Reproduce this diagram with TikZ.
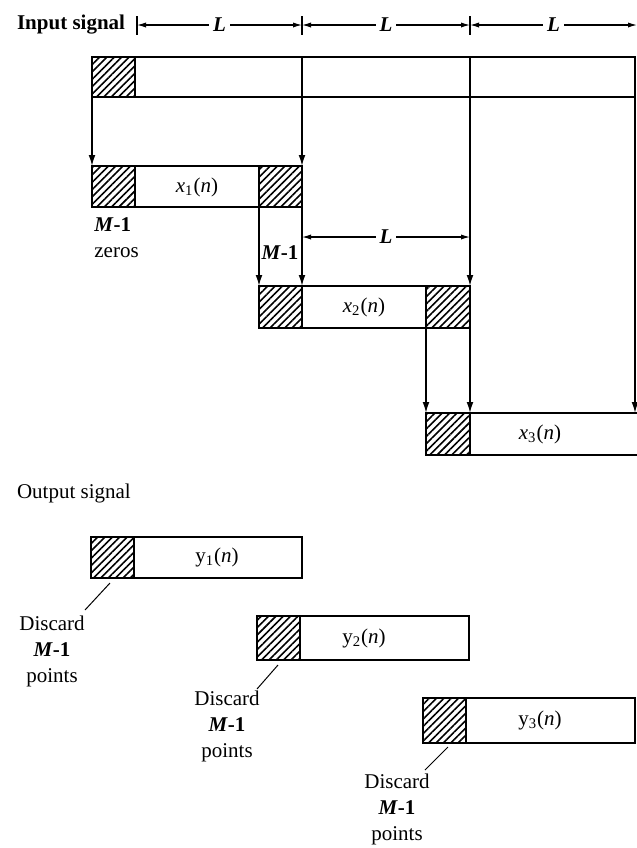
\documentclass[tikz,border=0pt]{standalone}
\usepackage{fontspec}
\setmainfont{Liberation Serif}
\usetikzlibrary{arrows.meta,patterns.meta}

\tikzset{
  blk/.style={line width=0.9pt},
  hatch/.style={blk,pattern={Lines[angle=45,distance=2.6pt,line width=0.8pt]}},
  feed/.style={line width=0.7pt,-{Latex[length=5.5pt,width=3.4pt]}},
  dim/.style={line width=0.6pt,{Latex[length=4.5pt,width=2.6pt]}-{Latex[length=4.5pt,width=2.6pt]}},
  tick/.style={line width=0.6pt},
  lead/.style={line width=0.5pt}
}
\newcommand{\Mone}{\textbf{\textit{M}-1}}
\newcommand{\Lsym}{\textit{\textbf{L}}}
\newcommand{\sig}[2]{#1\textsubscript{#2}(\textit{n})}

\begin{document}
\begin{tikzpicture}[x=0.5pt,y=-0.5pt,font=\fontsize{10.5pt}{13pt}\selectfont]
  \useasboundingbox (0,0) rectangle (637,848);

  % input signal, blocks of length L
  \node[anchor=west,font=\fontsize{10.5pt}{13pt}\selectfont\bfseries] (insig) at (10,25) {Input signal};
  \foreach \t in {137,302,470} \draw[tick] (\t,16) -- (\t,35);
  \draw[dim] (137,25) -- (302,25) node[midway,fill=white,inner sep=2pt] (L1) {\Lsym};
  \draw[dim] (302,25) -- (470,25) node[midway,fill=white,inner sep=2pt] (L2) {\Lsym};
  \draw[dim] (470,25) -- (637,25) node[midway,fill=white,inner sep=2pt] (L3) {\Lsym};

  \draw[blk] (92,57) rectangle (635,97);
  \draw[hatch] (92,57) rectangle (135,97); % M-1 zeros
  \draw[blk] (302,57) -- (302,97) (470,57) -- (470,97);

  % overlapping input blocks
  \draw[blk] (92,166) rectangle (302,207);
  \draw[hatch] (92,166) rectangle (135,207);
  \draw[hatch] (259,166) rectangle (302,207);
  \node (x1) at (197,187) {\sig{\textit{x}}{1}};

  \draw[blk] (259,286) rectangle (470,328);
  \draw[hatch] (259,286) rectangle (302,328);
  \draw[hatch] (426,286) rectangle (470,328);
  \node (x2) at (364,307) {\sig{\textit{x}}{2}};

  \draw[blk] (637,413) -- (426,413) -- (426,455) -- (637,455);
  \draw[hatch] (426,413) rectangle (470,455);
  \node (x3) at (540,434) {\sig{\textit{x}}{3}};

  % data copied down
  \draw[feed] (92,97)  -- (92,166);
  \draw[feed] (302,97) -- (302,166);
  \draw[feed] (302,207) -- (302,286);
  \draw[feed] (259,207) -- (259,286);
  \draw[feed] (470,97) -- (470,286);
  \draw[feed] (470,328) -- (470,413);
  \draw[feed] (426,328) -- (426,413);
  \draw[feed] (635,97) -- (635,413);

  \node[align=left,anchor=west,inner sep=1pt] (zeros) at (92,238) {\Mone\\zeros};
  \node[inner sep=1pt] (m2) at (280,253) {\Mone};
  \draw[dim] (302,237) -- (470,237) node[midway,fill=white,inner sep=2pt] (L4) {\Lsym};

  % output signal
  \node[anchor=west] (outsig) at (10,493) {Output signal};

  \draw[blk] (91,537) rectangle (302,578);
  \draw[hatch] (91,537) rectangle (134,578);
  \node (y1) at (217,557) {\sig{y}{1}};

  \draw[blk] (257,616) rectangle (469,660);
  \draw[hatch] (257,616) rectangle (300,660);
  \node (y2) at (364,638) {\sig{y}{2}};

  \draw[blk] (423,698) rectangle (635,743);
  \draw[hatch] (423,698) rectangle (466,743);
  \node (y3) at (540,720) {\sig{y}{3}};

  % discarded points
  \node[align=center] (d1) at (52,651) {Discard\\\Mone\\points};
  \node[align=center] (d2) at (227,726) {Discard\\\Mone\\points};
  \node[align=center] (d3) at (397,809) {Discard\\\Mone\\points};
  \draw[lead] (110,583) -- (85,610);
  \draw[lead] (278,665) -- (257,689);
  \draw[lead] (448,747) -- (425,770);
\end{tikzpicture}
\end{document}
